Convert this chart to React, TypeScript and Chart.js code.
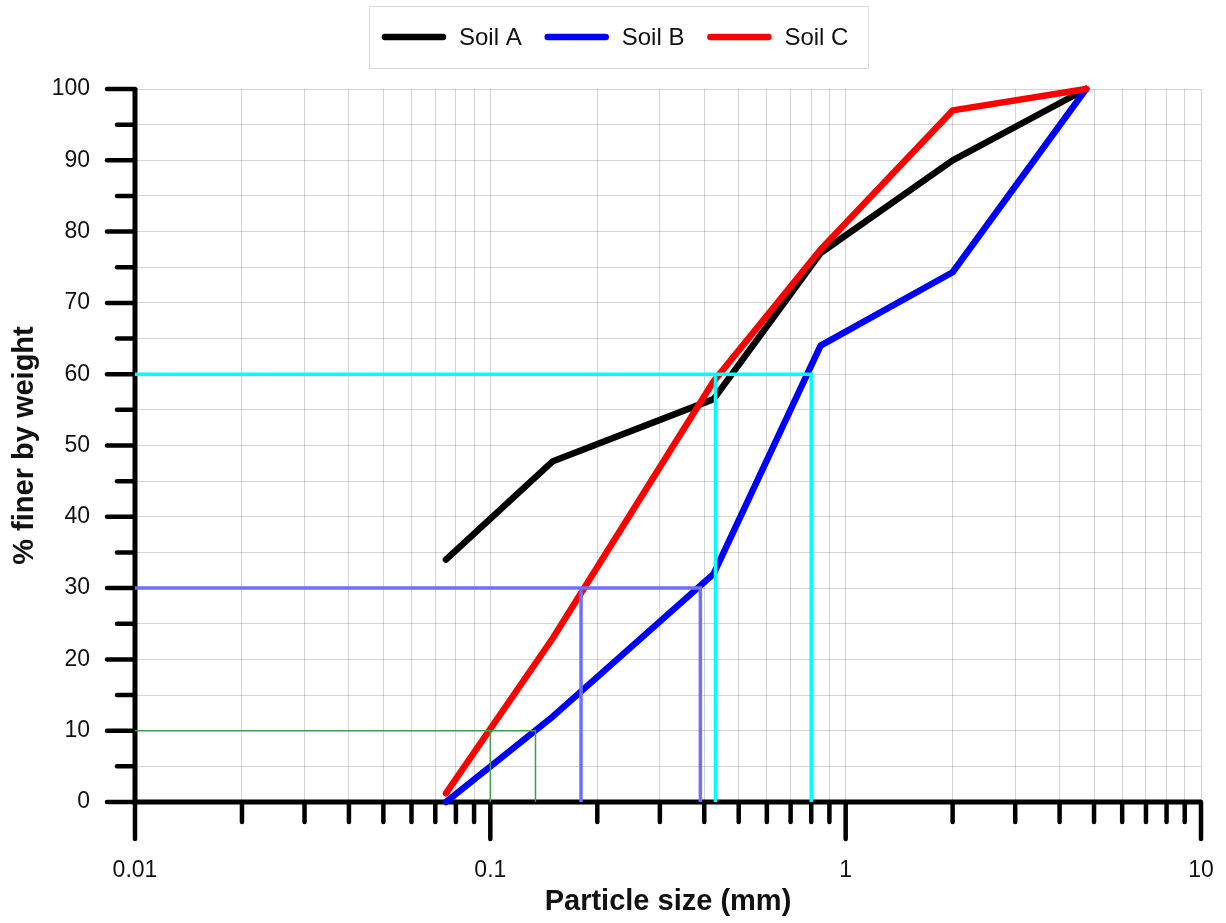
import React, { useEffect, useRef } from 'react';
import { Chart, registerables } from 'chart.js';

Chart.register(...registerables);

// ---------- data ----------
const sieveSizes = [0.075, 0.15, 0.425, 0.85, 2.0, 4.75];
const soilA = [34, 47.8, 56.5, 77, 90, 100];
const soilB = [0, 12, 32, 64, 74.3, 100];
const soilC = [1.2, 23, 59, 77.5, 97, 100];

const seriesLabels = ['Soil A', 'Soil B', 'Soil C'];
const seriesColors = ['#000000', '#0000ff', '#ff0000'];

// guide lines (D60, D30, D10)
const guideLevels = [60, 30, 10];
const guideSizesLow = [0.43, 0.18, 0.1];
const guideSizesHigh = [0.8, 0.39, 0.134];
const guideColors = ['#00ffff', '#6e6eff', '#3a9e4a'];
const guideWidths = [3.5, 3.5, 1.5];

// axes
const xMin = 0.01;
const xMax = 10;
const xMajorTicks = [0.01, 0.1, 1, 10];
const xTickLabels = ['0.01', '0.1', '1', '10'];
const xMantissas = [1, 2, 3, 4, 5, 6, 7, 8, 9];
const yMin = 0;
const yMax = 100;
const yStep = 5;
const yLabelStep = 10;

const FONT = "'Liberation Sans', Arial, Helvetica, sans-serif";

function allXTicks(): number[] {
  const out: number[] = [];
  for (let d = 0; d < xMajorTicks.length - 1; d++) {
    for (const m of xMantissas) out.push(parseFloat((m * xMajorTicks[d]).toPrecision(6)));
  }
  out.push(xMajorTicks[xMajorTicks.length - 1]);
  return out;
}

function isMajorX(v: number) {
  return xMajorTicks.some((t) => Math.abs(t - v) / t < 1e-6);
}

const axesPlugin = {
  id: 'customAxes',
  beforeDatasetsDraw(chart: any) {
    const { ctx, chartArea, scales } = chart;
    const xs = scales.x;
    const ys = scales.y;
    ctx.save();
    ctx.strokeStyle = '#000';
    ctx.lineCap = 'round';
    // y ticks
    ctx.lineWidth = 4.5;
    for (let v = yMin; v <= yMax; v += yStep) {
      const py = ys.getPixelForValue(v);
      const len = v % yLabelStep === 0 ? 28 : 18;
      ctx.beginPath();
      ctx.moveTo(chartArea.left - len, py);
      ctx.lineTo(chartArea.left, py);
      ctx.stroke();
    }
    // x ticks
    for (const v of allXTicks()) {
      const px = xs.getPixelForValue(v);
      const len = isMajorX(v) ? 37 : 20;
      ctx.beginPath();
      ctx.moveTo(px, chartArea.bottom);
      ctx.lineTo(px, chartArea.bottom + len);
      ctx.stroke();
    }
    // axis lines
    ctx.lineWidth = 5;
    ctx.lineCap = 'butt';
    ctx.beginPath();
    ctx.moveTo(chartArea.left, chartArea.top - 1);
    ctx.lineTo(chartArea.left, chartArea.bottom);
    ctx.lineTo(chartArea.right, chartArea.bottom);
    ctx.stroke();
    ctx.restore();
  },
};

const legendPlugin = {
  id: 'boxLegend',
  afterDraw(chart: any) {
    const ctx = chart.ctx;
    ctx.save();
    ctx.strokeStyle = '#d8d8d8';
    ctx.lineWidth = 1;
    ctx.strokeRect(369.5, 6.5, 499, 62);
    ctx.font = `24px ${FONT}`;
    ctx.textBaseline = 'middle';
    ctx.textAlign = 'left';
    let x = 385;
    const y = 38;
    for (let i = 0; i < seriesLabels.length; i++) {
      ctx.strokeStyle = seriesColors[i];
      ctx.lineWidth = 6.5;
      ctx.lineCap = 'round';
      ctx.beginPath();
      ctx.moveTo(x, y - 1);
      ctx.lineTo(x + 58, y - 1);
      ctx.stroke();
      ctx.fillStyle = '#111';
      ctx.fillText(seriesLabels[i], x + 74, y);
      x += 74 + ctx.measureText(seriesLabels[i]).width + 26;
    }
    ctx.restore();
  },
};

export default function App() {
  const ref = useRef<HTMLCanvasElement | null>(null);

  useEffect(() => {
    if (!ref.current) return;
    const soilSeries = [soilA, soilB, soilC];
    const soilDatasets = soilSeries.map((vals, i) => ({
      type: 'line' as const,
      label: seriesLabels[i],
      data: sieveSizes.map((s, j) => ({ x: s, y: vals[j] })),
      borderColor: seriesColors[i],
      backgroundColor: seriesColors[i],
      borderWidth: 6.5,
      borderCapStyle: 'round' as const,
      borderJoinStyle: 'round' as const,
      pointRadius: 0,
      tension: 0,
      fill: false,
      clip: false as any,
      order: 3 - i,
    }));
    const guideDatasets: any[] = [];
    guideLevels.forEach((lvl, i) => {
      guideDatasets.push({
        type: 'line',
        label: `guide-${lvl}-a`,
        data: [
          { x: xMin, y: lvl },
          { x: guideSizesHigh[i], y: lvl },
          { x: guideSizesHigh[i], y: yMin },
        ],
        borderColor: guideColors[i],
        borderWidth: guideWidths[i],
        pointRadius: 0,
        tension: 0,
        fill: false,
        order: 0,
      });
      guideDatasets.push({
        type: 'line',
        label: `guide-${lvl}-b`,
        data: [
          { x: guideSizesLow[i], y: lvl },
          { x: guideSizesLow[i], y: yMin },
        ],
        borderColor: guideColors[i],
        borderWidth: guideWidths[i],
        pointRadius: 0,
        tension: 0,
        fill: false,
        order: 0,
      });
    });

    const chart = new Chart(ref.current, {
      type: 'line',
      data: { datasets: [...soilDatasets, ...guideDatasets] as any },
      options: {
        responsive: false,
        animation: false,
        events: [],
        layout: { padding: { top: 89, left: 0, right: 25, bottom: 0 } },
        plugins: {
          legend: { display: false },
          tooltip: { enabled: false },
        },
        scales: {
          x: {
            type: 'logarithmic',
            min: xMin,
            max: xMax,
            afterBuildTicks: (scale: any) => {
              scale.ticks = allXTicks().map((v) => ({ value: v }));
            },
            afterFit: (scale: any) => {
              scale.height = 121;
              scale.paddingRight = 13;
              scale.paddingLeft = 23;
            },
            grid: {
              color: 'rgba(0,0,0,0.17)',
              lineWidth: 1,
              drawTicks: true,
              tickLength: 55,
              tickColor: 'rgba(0,0,0,0)',
            },
            border: { display: false },
            ticks: {
              autoSkip: false,
              maxRotation: 0,
              minRotation: 0,
              padding: 0,
              color: '#111',
              font: { family: FONT, size: 23 },
              callback: (value: any) => {
                const v = Number(value);
                const idx = xMajorTicks.findIndex((t) => Math.abs(t - v) / t < 1e-6);
                return idx >= 0 ? xTickLabels[idx] : '';
              },
            },
            title: {
              display: true,
              text: 'Particle size (mm)',
              color: '#111',
              font: { family: FONT, size: 29, weight: 'bold' },
              padding: { top: 0, bottom: 4 },
            },
          },
          y: {
            type: 'linear',
            min: yMin,
            max: yMax,
            afterFit: (scale: any) => {
              scale.width = 135;
            },
            grid: {
              color: 'rgba(0,0,0,0.17)',
              lineWidth: 1,
              drawTicks: false,
            },
            border: { display: false },
            ticks: {
              stepSize: yStep,
              padding: 45,
              color: '#111',
              font: { family: FONT, size: 23 },
              callback: (value: any) => (Number(value) % yLabelStep === 0 ? String(value) : ''),
            },
            title: {
              display: true,
              text: '% finer by weight',
              color: '#111',
              font: { family: FONT, size: 29, weight: 'bold' },
              padding: { top: 8, bottom: 0 },
            },
          },
        },
      },
      plugins: [axesPlugin, legendPlugin],
    });
    return () => chart.destroy();
  }, []);

  return (
    <div style={{ position: 'absolute', left: 0, top: 0, width: 1226, height: 923, background: '#fff' }}>
      <canvas ref={ref} width={1226} height={923} style={{ display: 'block', width: 1226, height: 923 }} />
    </div>
  );
}
